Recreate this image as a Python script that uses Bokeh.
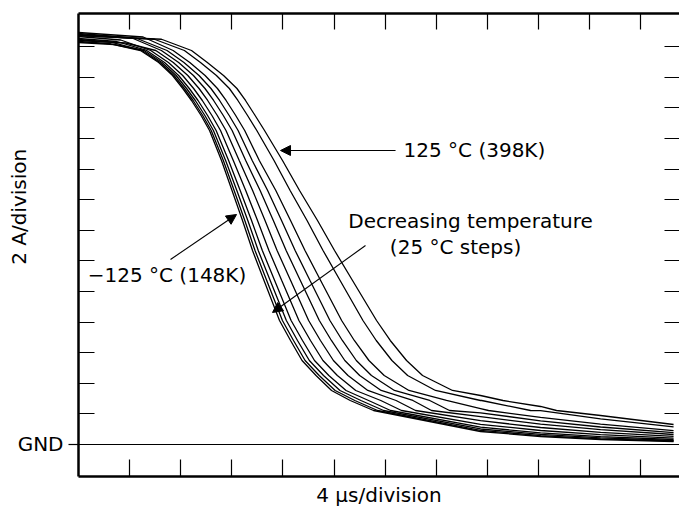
from bokeh.plotting import figure
from bokeh.models import (Range1d, LinearAxis, FixedTicker, Span, Arrow,
                          NormalHead, Label)
from bokeh.embed import file_html
from bokeh.resources import INLINE

# Units: x in divisions (4 us/div), y in divisions (2 A/div), GND = 0
TEMPS_C = [-125, -100, -75, -50, -25, 0, 25, 50, 75, 100, 125]

# current levels (div) at which each curve's crossing time was read
LEVELS_Y = [12.876, 12.484, 12.059, 11.634, 11.242, 10.752, 10.261, 9.281,
            8.301, 7.320, 6.340, 5.359, 4.052, 3.399, 2.745, 2.255, 1.765,
            1.438, 1.111]

# crossing times (div) of each curve at LEVELS_Y (coldest first)
CROSS_X = [
    [1.213, 1.569, 1.840, 2.041, 2.211, 2.399, 2.564, 2.798, 3.004, 3.209, 3.405, 3.630, 3.933, 4.149, 4.374, 4.648, 4.951, 5.317, 5.773],
    [1.243, 1.598, 1.869, 2.073, 2.243, 2.431, 2.597, 2.834, 3.045, 3.254, 3.454, 3.683, 3.990, 4.207, 4.434, 4.710, 5.022, 5.407, 5.851],
    [1.284, 1.636, 1.910, 2.115, 2.286, 2.473, 2.640, 2.879, 3.098, 3.313, 3.517, 3.751, 4.067, 4.285, 4.517, 4.794, 5.117, 5.526, 5.969],
    [1.333, 1.684, 1.959, 2.168, 2.339, 2.526, 2.693, 2.937, 3.164, 3.386, 3.597, 3.838, 4.160, 4.383, 4.618, 4.898, 5.235, 5.676, 6.106],
    [1.413, 1.760, 2.039, 2.253, 2.423, 2.611, 2.779, 3.029, 3.272, 3.503, 3.726, 3.977, 4.313, 4.539, 4.783, 5.065, 5.425, 5.915, 6.321],
    [1.513, 1.855, 2.139, 2.359, 2.528, 2.716, 2.886, 3.145, 3.407, 3.650, 3.886, 4.151, 4.503, 4.734, 4.988, 5.273, 5.661, 6.214, 6.595],
    [1.622, 1.960, 2.249, 2.475, 2.644, 2.833, 3.006, 3.272, 3.554, 3.812, 4.063, 4.341, 4.712, 4.949, 5.211, 5.502, 5.922, 6.543, 6.908],
    [1.732, 2.064, 2.358, 2.592, 2.761, 2.949, 3.123, 3.399, 3.701, 3.973, 4.239, 4.530, 4.920, 5.163, 5.436, 5.732, 6.182, 6.872, 7.260],
    [1.851, 2.178, 2.477, 2.719, 2.888, 3.076, 3.252, 3.538, 3.861, 4.149, 4.432, 4.738, 5.149, 5.397, 5.683, 5.982, 6.466, 7.201, 8.023],
    [2.072, 2.387, 2.699, 2.952, 3.119, 3.308, 3.489, 3.826, 4.141, 4.472, 4.785, 5.119, 5.566, 5.826, 6.133, 6.440, 6.986, 7.889, 8.845],
    [2.211, 2.521, 2.838, 3.100, 3.268, 3.456, 3.640, 3.992, 4.325, 4.677, 5.010, 5.362, 5.832, 6.100, 6.419, 6.732, 7.319, 8.307, 9.354],
]

# tail: current (div) of each curve at fixed times (div)
TAIL_X = [7.867, 9.041, 10.215, 11.644]
TAIL_Y = [
    [0.425, 0.261, 0.163, 0.098],
    [0.461, 0.291, 0.186, 0.114],
    [0.507, 0.330, 0.219, 0.137],
    [0.565, 0.379, 0.258, 0.163],
    [0.660, 0.458, 0.320, 0.209],
    [0.778, 0.556, 0.399, 0.265],
    [0.908, 0.663, 0.484, 0.327],
    [1.036, 0.771, 0.572, 0.386],
    [1.176, 0.889, 0.667, 0.454],
    [1.438, 1.105, 0.837, 0.575],
    [1.601, 1.242, 0.948, 0.654],
]

# start of each trace (t = 0) and a point on its flat top
START_Y = [13.170, 13.235, 13.137, 13.268, 13.333, 13.203, 13.431, 13.399, 13.464, 13.366, 13.366]
FLAT_X = [0.626, 0.656, 0.697, 0.746, 0.826, 0.926, 1.035, 1.145, 1.264, 1.485, 1.624]
FLAT_Y = [13.096, 13.145, 13.072, 13.170, 13.219, 13.121, 13.292, 13.268, 13.317, 13.244, 13.244]

X_TICKS = list(range(1, 12))
Y_TICKS = list(range(1, 14))

FONT = "DejaVu Sans"
FS = "20px"

p = figure(width=679, height=509, output_backend="svg", toolbar_location=None,
           x_range=Range1d(0, 11.76), y_range=Range1d(-1.046, 14.085),
           x_axis_location=None, y_axis_location=None,
           min_border_left=78, min_border_right=0, min_border_top=13,
           min_border_bottom=33)
p.title.visible = False
p.outline_line_color = None
for g in p.grid:
    g.visible = False
p.background_fill_color = "white"
p.border_fill_color = "white"

left = LinearAxis(ticker=FixedTicker(ticks=[0], minor_ticks=Y_TICKS),
                  major_label_overrides={0: "GND"})
left.axis_line_width = 2.5
left.axis_line_color = "black"
left.major_tick_in = 0
left.major_tick_out = 10
left.major_tick_line_width = 1.2
left.major_tick_line_color = "black"
left.minor_tick_in = 16
left.minor_tick_out = 0
left.minor_tick_line_width = 1.2
left.minor_tick_line_color = "black"
left.major_label_standoff = 5
left.major_label_text_font = FONT
left.major_label_text_font_size = FS
left.major_label_text_color = "black"
# leading no-break spaces lift the label above the frame's centre, as in the original
left.axis_label = "\u00a0" * 12 + "2 A/division"
left.axis_label_standoff = -16
left.axis_label_text_font = FONT
left.axis_label_text_font_size = FS
left.axis_label_text_font_style = "normal"
left.axis_label_text_color = "black"
p.add_layout(left, "left")


def tick_axis(ticks, tick_len, with_line=True):
    ax = LinearAxis(ticker=FixedTicker(ticks=[], minor_ticks=ticks))
    if with_line:
        ax.axis_line_width = 2.5
        ax.axis_line_color = "black"
    else:
        ax.axis_line_color = None
    ax.major_tick_line_color = None
    ax.minor_tick_in = tick_len
    ax.minor_tick_out = 0
    ax.minor_tick_line_width = 1.2
    ax.minor_tick_line_color = "black"
    ax.major_label_standoff = 0
    return ax


bottom = tick_axis(X_TICKS, 17)
bottom.axis_label = "4 \u03bcs/division"
bottom.axis_label_standoff = 6
bottom.axis_label_text_font = FONT
bottom.axis_label_text_font_size = FS
bottom.axis_label_text_font_style = "normal"
bottom.axis_label_text_color = "black"
p.add_layout(bottom, "below")
p.add_layout(tick_axis(X_TICKS, 16), "above")
p.add_layout(tick_axis(Y_TICKS, 15, with_line=False), "right")

p.add_layout(Span(location=0, dimension="width", line_color="black", line_width=1.2))

for i, t in enumerate(TEMPS_C):
    pts = [(0.0, START_Y[i]), (FLAT_X[i], FLAT_Y[i])]
    pts += list(zip(CROSS_X[i], LEVELS_Y))
    pts += list(zip(TAIL_X, TAIL_Y[i]))
    pts.sort(key=lambda q: q[0])
    p.line([q[0] for q in pts], [q[1] for q in pts], line_color="black",
           line_width=1.3)

# annotations
ARROWS = [  # x_start, y_start, x_end, y_end
    (6.204, 9.608, 3.953, 9.608),
    (1.800, 6.046, 3.092, 7.516),
    (5.616, 6.503, 3.796, 4.314),
]
for xs, ys, xe, ye in ARROWS:
    p.add_layout(Arrow(end=NormalHead(size=10, fill_color="black", line_color="black",
                                      line_width=1),
                       x_start=xs, y_start=ys, x_end=xe, y_end=ye,
                       line_color="black", line_width=1.1))

LABELS = [  # x, y, text, align
    (6.360, 9.608, "125 \u00b0C (398K)", "left"),
    (1.732, 5.523, "\u2212125 \u00b0C (148K)", "center"),
    (7.671, 7.320, "Decreasing temperature", "center"),
    (7.378, 6.438, "(25 \u00b0C steps)", "center"),
]
for x, y, txt, al in LABELS:
    p.add_layout(Label(x=x, y=y, text=txt, text_align=al, text_baseline="middle",
                       text_font=FONT, text_font_size=FS, text_color="black"))

open("out.html", "w").write(file_html(p, INLINE))
